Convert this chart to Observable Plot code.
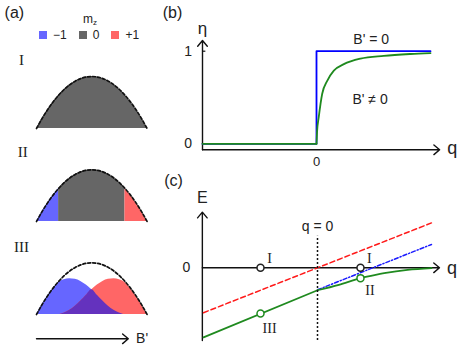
<!DOCTYPE html>
<html>
<head>
<meta charset="utf-8">
<script src="https://cdn.jsdelivr.net/npm/d3@7"></script>
<script src="https://cdn.jsdelivr.net/npm/@observablehq/plot@0.6"></script>
<style>
  body { margin: 0; background: #fff; }
  #fig { position: relative; width: 463px; height: 354px; background: #fff; overflow: hidden;
         font-family: "Liberation Sans", Arial, sans-serif; color: #222; }
  #mz { position: absolute; left: 83px; top: 12px; font-size: 12px; line-height: 14px; z-index: 5; }
  #mz sub { font-size: 8px; vertical-align: -2px; }
  #legend { position: absolute; left: 39px; top: 18px; z-index: 5; }
</style>
</head>
<body>
<div id="fig">
  <div id="mz">m<sub>z</sub></div>
  <div id="legend"></div>
</div>
<script>
// ---------- data ----------
// panel (a): spin-component density profiles along the trap (B' direction)
const profileX      = [-1,-0.9,-0.8,-0.7,-0.6,-0.5,-0.4,-0.3,-0.2,-0.1,0,0.1,0.2,0.3,0.4,0.5,0.6,0.7,0.8,0.9,1];
const parabolaH     = [0,0.19,0.36,0.51,0.64,0.75,0.84,0.91,0.96,0.99,1,0.99,0.96,0.91,0.84,0.75,0.64,0.51,0.36,0.19,0];
const humpMinusH    = [0,0.19,0.36,0.50,0.62,0.67,0.69,0.68,0.64,0.57,0.48,0.37,0.26,0.16,0.08,0.03,0,0,0,0,0];
const humpPlusH     = [0,0,0,0,0,0.03,0.08,0.16,0.26,0.37,0.48,0.57,0.64,0.68,0.69,0.67,0.62,0.50,0.36,0.19,0];
const phaseIIEdges  = [-0.6, 0.6];
const mzLabels      = ["\u22121", "0", "+1"];
const mzColors      = ["#6666ff", "#666666", "#ff6666"];
const overlapColor  = "#6432be";
const romanLabels   = ["I", "II", "III"];

// panel (b): order parameter eta vs q
const qBlueB   = [-1, 0, 0, 1];
const etaBlueB = [0, 0, 1, 1];
const qGreenB   = [-1, 0, 0.005, 0.02, 0.05, 0.094, 0.152, 0.24, 0.386, 0.59, 0.825, 1.0];
const etaGreenB = [0, 0, 0.13, 0.29, 0.54, 0.68, 0.79, 0.86, 0.92, 0.95, 0.97, 0.98];

// panel (c): energy vs q
const qRedC   = [-1, 1];
const eRedC   = [-1, 1];
const qBlueC  = [0, 1];
const eBlueC  = [-0.49, 0.52];
const qGreenC = [-1, 0, 0.187, 0.377, 0.51, 0.585, 0.79, 1.0];
const eGreenC = [-1.55, -0.50, -0.378, -0.23, -0.156, -0.12, -0.045, -0.005];
const qPointsC      = [-0.5, 0.377];
const eGreenPointsC = [-1.02, -0.23];

// ---------- helpers ----------
const W = 463, H = 354;
const SANS = "Liberation Sans, Arial, sans-serif";
const SERIF = "Liberation Serif, Times New Roman, serif";
function frame(x0, xs, y0, ys) {
  return {
    x: {type: "linear", domain: [(0 - x0) / xs, (W - x0) / xs], axis: null},
    y: {type: "linear", domain: [(y0 - H) / ys, y0 / ys], axis: null}
  };
}
function plot(fr, marks) {
  return Plot.plot({
    width: W, height: H, margin: 0,
    ...fr,
    style: {position: "absolute", left: "0px", top: "0px", background: "transparent", overflow: "visible", fontFamily: SANS},
    marks
  });
}
const fig = document.getElementById("fig");
const rows = (xs, ys) => xs.map((x, i) => ({x, y: ys[i]}));
const arrowOpts = {stroke: "#111", strokeWidth: 1.4, headLength: 8, headAngle: 80};

// ---------- panel (a) ----------
const par = rows(profileX, parabolaH);
const minus = rows(profileX, humpMinusH);
const plus = rows(profileX, humpPlusH);
const overlap = profileX.map((x, i) => ({x, y: Math.min(humpMinusH[i], humpPlusH[i])}));
const dashed = (data) => Plot.line(data, {x: "x", y: "y", stroke: "#111", strokeWidth: 1.7, strokeDasharray: "3,2", curve: "monotone-x"});
const area = (data, fill) => Plot.areaY(data, {x: "x", y: "y", fill, curve: "monotone-x"});

// I
fig.appendChild(plot(frame(91.3, 55.3, 128, 52), [
  area(par, mzColors[1]),
  dashed(par),
  Plot.text([romanLabels[0]], {x: -1.27, y: 1.31, text: d => d, fontSize: 15, fontFamily: SERIF, fill: "#222"}),
  Plot.text(["(a)"], {x: -1.40, y: 2.23, text: d => d, fontSize: 16, fill: "#222"})
]));
// II
fig.appendChild(plot(frame(91.3, 55.3, 221, 51.7), [
  area(par.filter(d => d.x <= phaseIIEdges[0]), mzColors[0]),
  area(par.filter(d => d.x >= phaseIIEdges[0] && d.x <= phaseIIEdges[1]), mzColors[1]),
  area(par.filter(d => d.x >= phaseIIEdges[1]), mzColors[2]),
  dashed(par),
  Plot.text([romanLabels[1]], {x: -1.25, y: 1.335, text: d => d, fontSize: 15, fontFamily: SERIF, fill: "#222"})
]));
// III
fig.appendChild(plot(frame(91.3, 55.3, 314, 51.7), [
  area(minus, mzColors[0]),
  area(plus, mzColors[2]),
  area(overlap, overlapColor),
  dashed(par),
  Plot.text([romanLabels[2]], {x: -1.27, y: 1.30, text: d => d, fontSize: 15, fontFamily: SERIF, fill: "#222"}),
  Plot.arrow([0], {x1: -1.0, y1: -0.47, x2: 0.66, y2: -0.47, ...arrowOpts}),
  Plot.text(["B'"], {x: 0.91, y: -0.47, text: d => d, fontSize: 14, fill: "#222"})
]));

// legend
document.getElementById("legend").appendChild(Plot.legend({
  color: {type: "ordinal", domain: mzLabels, range: mzColors},
  swatchSize: 8,
  style: {fontSize: "12px", fontFamily: SANS, color: "#222"}
}));

// ---------- panel (b) ----------
const blueB = qBlueB.map((q, i) => ({q, v: etaBlueB[i]}));
const greenB = qGreenB.map((q, i) => ({q, v: etaGreenB[i]}));
fig.appendChild(plot(frame(316, 114, 143.3, 92.6), [
  Plot.arrow([0], {x1: -1.0, y1: -0.065, x2: -1.0, y2: 1.115, ...arrowOpts}),
  Plot.arrow([0], {x1: -1.0, y1: -0.065, x2: 1.08, y2: -0.065, ...arrowOpts}),
  Plot.link([0], {x1: -1.0, y1: 1, x2: -0.975, y2: 1, stroke: "#111", strokeWidth: 1.2}),
  Plot.line(blueB, {x: "q", y: "v", stroke: "#0000ff", strokeWidth: 1.8}),
  Plot.line(greenB.filter(d => d.q <= 0), {x: "q", y: "v", stroke: "#1f8a1f", strokeWidth: 1.8}),
  Plot.line(greenB.filter(d => d.q >= 0), {x: "q", y: "v", stroke: "#1f8a1f", strokeWidth: 1.8, curve: "monotone-x"}),
  Plot.text(["(b)"], {x: -1.263, y: 1.418, text: d => d, fontSize: 16, fill: "#222"}),
  Plot.text(["\u03B7"], {x: -1.0, y: 1.24, text: d => d, fontSize: 17, fill: "#222"}),
  Plot.text(["q"], {x: 1.19, y: -0.05, text: d => d, fontSize: 18, fill: "#222"}),
  Plot.text(["1"], {x: -1.125, y: 1, text: d => d, fontSize: 14, fill: "#222"}),
  Plot.text(["0"], {x: -1.125, y: 0, text: d => d, fontSize: 14, fill: "#222"}),
  Plot.text(["0"], {x: 0, y: -0.191, text: d => d, fontSize: 13, fill: "#222"}),
  Plot.text(["B' = 0"], {x: 0.48, y: 1.123, text: d => d, fontSize: 14, fill: "#222"}),
  Plot.text(["B' \u2260 0"], {x: 0.47, y: 0.478, text: d => d, fontSize: 14, fill: "#222"})
]));

// ---------- panel (c) ----------
const redC = qRedC.map((q, i) => ({q, e: eRedC[i]}));
const blueC = qBlueC.map((q, i) => ({q, e: eBlueC[i]}));
const greenC = qGreenC.map((q, i) => ({q, e: eGreenC[i]}));
const pts = qPointsC.map((q, i) => ({q, e0: 0, eg: eGreenPointsC[i]}));
fig.appendChild(plot(frame(317, 114, 267.3, 44.9), [
  Plot.arrow([0], {x1: -1.01, y1: -1.62, x2: -1.01, y2: 1.24, ...arrowOpts}),
  Plot.arrow([0], {x1: -1.01, y1: 0, x2: 1.07, y2: 0, ...arrowOpts}),
  Plot.line(redC, {x: "q", y: "e", stroke: "#ff1a1a", strokeWidth: 1.5, strokeDasharray: "5,3"}),
  Plot.line(blueC, {x: "q", y: "e", stroke: "#1a1aff", strokeWidth: 1.5, strokeDasharray: "4,2,1.2,2"}),
  Plot.line(greenC.filter(d => d.q <= 0), {x: "q", y: "e", stroke: "#1f8a1f", strokeWidth: 1.8}),
  Plot.line(greenC.filter(d => d.q >= 0), {x: "q", y: "e", stroke: "#1f8a1f", strokeWidth: 1.8, curve: "monotone-x"}),
  Plot.ruleX([0], {y1: -1.62, y2: 0.70, stroke: "#111", strokeWidth: 1.5, strokeDasharray: "2,2"}),
  Plot.dot(pts, {x: "q", y: "e0", r: 3.5, fill: "white", stroke: "#222", strokeWidth: 1.5}),
  Plot.dot(pts, {x: "q", y: "eg", r: 3.5, fill: "white", stroke: "#1f8a1f", strokeWidth: 1.5}),
  Plot.text(["(c)"], {x: -1.263, y: 1.944, text: d => d, fontSize: 16, fill: "#222"}),
  Plot.text(["E"], {x: -1.01, y: 1.55, text: d => d, fontSize: 16, fill: "#222"}),
  Plot.text(["q"], {x: 1.18, y: 0.0, text: d => d, fontSize: 18, fill: "#222"}),
  Plot.text(["0"], {x: -1.15, y: 0, text: d => d, fontSize: 14, fill: "#222"}),
  Plot.text(["q = 0"], {x: 0, y: 0.92, text: d => d, fontSize: 14, fill: "#222"}),
  Plot.text(["I"], {x: -0.42, y: 0.2, text: d => d, fontSize: 14, fontFamily: SERIF, fill: "#222"}),
  Plot.text(["I"], {x: 0.455, y: 0.2, text: d => d, fontSize: 14, fontFamily: SERIF, fill: "#222"}),
  Plot.text(["II"], {x: 0.46, y: -0.5, text: d => d, fontSize: 14, fontFamily: SERIF, fill: "#222"}),
  Plot.text(["III"], {x: -0.42, y: -1.36, text: d => d, fontSize: 14, fontFamily: SERIF, fill: "#222"})
]));
</script>
</body>
</html>
